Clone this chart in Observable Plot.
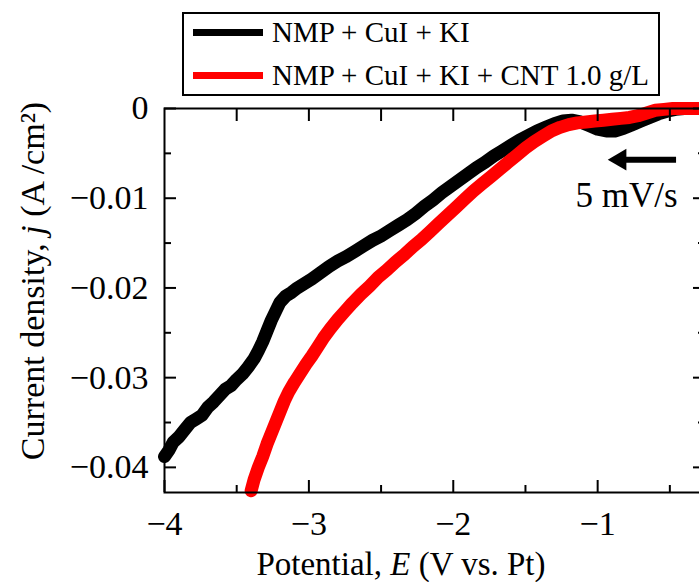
<!DOCTYPE html>
<html>
<head>
<meta charset="utf-8">
<script src="https://cdn.jsdelivr.net/npm/d3@7"></script>
<script src="https://cdn.jsdelivr.net/npm/@observablehq/plot@0.6"></script>
<style>
html, body { margin: 0; padding: 0; background: #fff; overflow: hidden; }
#wrap { position: relative; width: 699px; height: 582px; overflow: hidden; background: #fff; }
#wrap svg.chart { position: absolute; left: 0; top: 0; max-width: none; }
#legend { position: absolute; left: 182px; top: 12px; width: 478px; height: 84px; box-sizing: border-box;
  border: 2px solid #000; background: #fff; font-family: "Liberation Serif", serif; font-size: 29px; color: #000; }
#legend .row { position: absolute; left: 0; height: 34px; width: 100%; }
#legend .sw { position: absolute; left: 9px; top: 14px; width: 70px; height: 7px; }
#legend .lb { position: absolute; left: 88px; top: 0; line-height: 34px; white-space: nowrap; }
</style>
</head>
<body>
<div id="wrap"></div>
<script>
// ---- data ----
const seriesNames = ["NMP + CuI + KI", "NMP + CuI + KI + CNT 1.0 g/L"];
const seriesColors = ["#000000", "#ff0000"];

const blackE = [-4.00,-3.97,-3.94,-3.90,-3.86,-3.82,-3.78,-3.74,-3.70,-3.66,-3.62,-3.58,-3.54,-3.50,-3.46,-3.42,-3.38,-3.35,-3.32,-3.29,-3.26,-3.23,-3.20,-3.16,-3.12,-3.08,-3.03,-2.98,-2.92,-2.86,-2.80,-2.74,-2.68,-2.62,-2.56,-2.50,-2.44,-2.38,-2.32,-2.26,-2.20,-2.14,-2.08,-2.02,-1.96,-1.90,-1.84,-1.78,-1.72,-1.66,-1.60,-1.54,-1.48,-1.42,-1.36,-1.30,-1.24,-1.18,-1.12,-1.06,-1.00,-0.94,-0.88,-0.82,-0.76,-0.70,-0.64,-0.58,-0.52,-0.46,-0.40,-0.26];
const blackJ = [-0.0388,-0.0381,-0.0372,-0.0366,-0.0358,-0.0350,-0.0346,-0.0342,-0.0333,-0.0327,-0.0320,-0.0313,-0.0309,-0.0302,-0.0296,-0.0288,-0.0279,-0.0270,-0.0260,-0.0248,-0.0236,-0.0226,-0.0216,-0.0209,-0.0205,-0.0200,-0.0195,-0.0190,-0.0183,-0.0176,-0.0170,-0.0165,-0.0159,-0.0153,-0.0147,-0.0142,-0.0136,-0.0130,-0.0124,-0.0117,-0.0109,-0.0102,-0.0094,-0.0087,-0.0080,-0.0073,-0.0066,-0.0060,-0.0053,-0.0047,-0.0041,-0.0035,-0.0030,-0.0025,-0.0021,-0.0017,-0.0014,-0.0013,-0.0015,-0.0019,-0.0023,-0.0025,-0.0025,-0.0022,-0.0018,-0.0014,-0.0010,-0.0006,-0.0003,-0.0001,0.0000,0.0000];

const redE = [-3.40,-3.38,-3.35,-3.32,-3.29,-3.26,-3.23,-3.20,-3.17,-3.14,-3.10,-3.06,-3.02,-2.98,-2.94,-2.90,-2.85,-2.80,-2.75,-2.70,-2.64,-2.58,-2.52,-2.46,-2.40,-2.34,-2.28,-2.22,-2.16,-2.10,-2.04,-1.98,-1.92,-1.86,-1.80,-1.74,-1.68,-1.62,-1.56,-1.50,-1.44,-1.38,-1.32,-1.26,-1.20,-1.14,-1.08,-1.02,-0.96,-0.90,-0.84,-0.78,-0.72,-0.66,-0.60,-0.54,-0.48,-0.26];
const redJ = [-0.0426,-0.0414,-0.0400,-0.0388,-0.0374,-0.0362,-0.0350,-0.0338,-0.0326,-0.0316,-0.0305,-0.0295,-0.0285,-0.0276,-0.0266,-0.0256,-0.0245,-0.0235,-0.0226,-0.0217,-0.0207,-0.0198,-0.0188,-0.0180,-0.0171,-0.0163,-0.0154,-0.0146,-0.0137,-0.0128,-0.0119,-0.0110,-0.0101,-0.0092,-0.0084,-0.0076,-0.0068,-0.0060,-0.0052,-0.0044,-0.0037,-0.0031,-0.0025,-0.0021,-0.0018,-0.0016,-0.0015,-0.0014,-0.0013,-0.0012,-0.0011,-0.0010,-0.0008,-0.0005,-0.0002,-0.0001,0.0000,0.0000];

const xMajorTicks = [-4, -3, -2, -1];
const xMinorTicks = [-3.5, -2.5, -1.5, -0.5];
const xTopTicks = [-3.5, -3, -2.5, -2, -1.5, -1, -0.5];
const yMajorTicks = [0, -0.01, -0.02, -0.03, -0.04];
const yMinorTicks = [-0.005, -0.015, -0.025, -0.035];

const xTitle = ["Potential, ", "E", " (V vs. Pt)"];
const yTitle = ["Current density, ", "j", " (A /cm²)"];
const annotationText = "5 mV/s";

// ---- build ----
const black = blackE.map((E, i) => ({E, j: blackJ[i]}));
const red = redE.map((E, i) => ({E, j: redJ[i]}));
const fmtY = d => d === 0 ? "0" : d3.format(".2f")(d);
const fmtX = d => d3.format("d")(d);

const W = 720, H = 582;
const chart = Plot.plot({
  width: W, height: H,
  marginLeft: 164, marginRight: 16, marginTop: 108, marginBottom: 90,
  x: {domain: [-4, -0.26]},
  y: {domain: [-0.0428, 0]},
  style: {fontFamily: "'Liberation Serif', serif", fontSize: "34px", color: "#000", background: "#fff"},
  marks: [
    Plot.line(black, {x: "E", y: "j", stroke: seriesColors[0], strokeWidth: 13, strokeLinecap: "round", strokeLinejoin: "round"}),
    Plot.line(red, {x: "E", y: "j", stroke: seriesColors[1], strokeWidth: 13, strokeLinecap: "round", strokeLinejoin: "round"}),
    Plot.frame({stroke: "#000", strokeWidth: 2}),
    // bottom axis
    Plot.axisX({anchor: "bottom", ticks: xMajorTicks, tickSize: -12, text: null, label: null, strokeWidth: 2}),
    Plot.axisX({anchor: "bottom", ticks: xMinorTicks, tickSize: -7, text: null, label: null, strokeWidth: 2}),
    Plot.axisX({anchor: "bottom", ticks: xMajorTicks, tickSize: 0, tickPadding: 18, tickFormat: fmtX, label: null}),
    // top axis
    Plot.axisX({anchor: "top", ticks: xTopTicks, tickSize: -12, text: null, label: null, strokeWidth: 2}),
    // left axis
    Plot.axisY({anchor: "left", ticks: yMajorTicks, tickSize: -12, text: null, label: null, strokeWidth: 2}),
    Plot.axisY({anchor: "left", ticks: yMinorTicks, tickSize: -7, text: null, label: null, strokeWidth: 2}),
    Plot.axisY({anchor: "left", ticks: yMajorTicks, tickSize: 0, tickPadding: 16, tickFormat: fmtY, label: null}),
    // right axis
    Plot.axisY({anchor: "right", ticks: yMajorTicks, tickSize: -12, text: null, label: null, strokeWidth: 2}),
    Plot.axisY({anchor: "right", ticks: yMinorTicks, tickSize: -7, text: null, label: null, strokeWidth: 2}),
    // sweep arrow and annotation
    Plot.link([0], {x1: -0.457, x2: -0.84, y1: -0.0057, y2: -0.0057, stroke: "#000", strokeWidth: 6}),
    Plot.dot([0], {x: -0.844, y: -0.0057, symbol: "triangle", r: 8, rotate: -90, fill: "#000", stroke: null}),
    Plot.text([annotationText], {x: -0.80, y: -0.0110, text: d => d, lineAnchor: "bottom", textAnchor: "middle", fontSize: 35, fill: "#000"})
  ]
});
chart.classList.add("chart");
chart.style.maxWidth = "none";
document.getElementById("wrap").appendChild(chart);

// axis titles (real text, with italic symbol)
const svg = d3.select(chart);
const xt = svg.append("text")
  .attr("x", 401).attr("y", 575).attr("text-anchor", "middle")
  .attr("font-family", "'Liberation Serif', serif").attr("font-size", 33).attr("fill", "#000");
xTitle.forEach((s, i) => xt.append("tspan").attr("font-style", i === 1 ? "italic" : "normal").text(s));
const yt = svg.append("text")
  .attr("transform", "translate(44,281) rotate(-90)").attr("text-anchor", "middle")
  .attr("font-family", "'Liberation Serif', serif").attr("font-size", 34).attr("fill", "#000");
yTitle.forEach((s, i) => yt.append("tspan").attr("font-style", i === 1 ? "italic" : "normal").text(s));

// legend
const legend = document.createElement("div");
legend.id = "legend";
seriesNames.forEach((name, i) => {
  const row = document.createElement("div");
  row.className = "row";
  row.style.top = (i === 0 ? 1 : 44) + "px";
  const sw = document.createElement("div");
  sw.className = "sw";
  sw.style.background = seriesColors[i];
  const lb = document.createElement("div");
  lb.className = "lb";
  lb.textContent = name;
  row.appendChild(sw); row.appendChild(lb);
  legend.appendChild(row);
});
document.getElementById("wrap").appendChild(legend);
</script>
</body>
</html>
